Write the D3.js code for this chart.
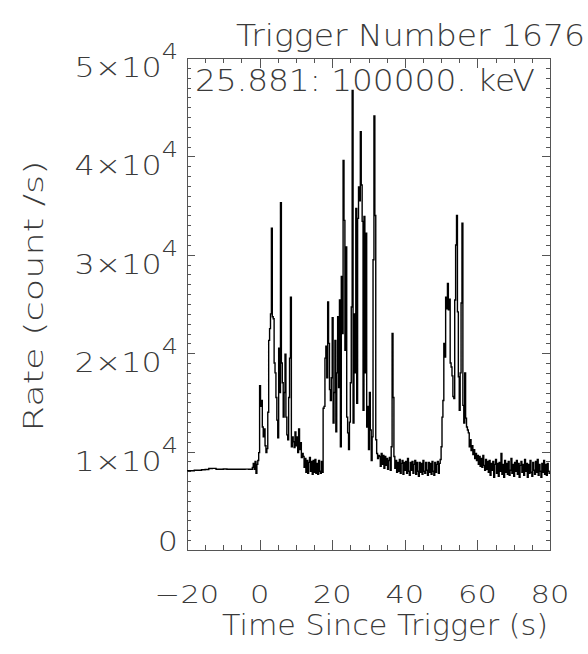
<!DOCTYPE html>
<html>
<head>
<meta charset="utf-8" />
<title>Trigger Number 1676</title>
<script src="https://d3js.org/d3.v7.min.js"></script>
<style>
  body { margin: 0; background: #fff; }
  svg { display: block; font-family: "DejaVu Sans", sans-serif; }
  .lbl { fill: #3a3a3a; font-weight: 200; }
  .frame { fill: none; stroke: #555; stroke-width: 1; shape-rendering: crispEdges; }
  .ax .tick line { stroke: #555; shape-rendering: crispEdges; }
  .ax .domain { display: none; }
</style>
</head>
<body>
<svg width="588" height="654"></svg>
<script>
// axis ticks
const xTicks = [-20, 0, 20, 40, 60, 80];
const xTickLabels = ["\u221220", "0", "20", "40", "60", "80"];
const yTicks = [0, 10000, 20000, 30000, 40000, 50000];
const yTickMantissa = ["0", "1", "2", "3", "4", "5"];

// light curve, rates in count/s, binned from each segment start
const preRates = [8050, 8050, 8100, 8100, 8150, 8180, 8280, 8300, 8200, 8200,
  8230, 8200, 8200, 8200, 8210, 8200, 8220, 8200];
const riseRates = [8400, 8800, 8200, 9000, 7800, 8700, 9100, 9900];
const pulse1Rates = [
  16700, 14600, 15200, 12500, 11500, 12300, 10600, 9900,
  10300, 14000, 21300, 22500, 24000, 32700, 23700, 23500,
  19000, 18000, 15500, 13200, 11400, 20500, 16000, 35300,
  19000, 17000, 13500, 16000, 19900, 13500, 11700, 11200,
  15500, 19500, 25700, 10500, 11500, 11000, 10400, 12000,
  10600, 11500, 9900, 12300, 10200, 10900, 9400, 9800];
const gap1Rates = [
  9500, 8400, 9300, 7900, 9100, 7800, 8900, 9400,
  8000, 9000, 7700, 9100, 7900, 9200, 7800, 8800,
  7700, 9100, 8000, 7800, 9000, 7900];
const pulse2Rates = [
  14400, 14600, 19500, 20700, 17500, 25200, 21000, 16300,
  15200, 17500, 23600, 12900, 16000, 21300, 12000, 18000,
  23700, 16500, 25400, 10500, 27800, 22000, 39600, 33500,
  20300, 30800, 13500, 11900, 10200, 13000, 17000, 24700,
  46700, 12900, 24000, 18000, 34700, 14900, 33700, 36900,
  35500, 42500, 37100, 33400, 14200, 33900, 18000, 32200,
  12500, 14600, 10200, 16000, 12200, 9100, 11500, 29500,
  44100, 34000, 11200, 9800, 9300, 9600];
const gap2Rates = [
  9500, 8500, 9800, 8700, 9600, 8300, 9500, 8600,
  9300, 8200, 9100, 9400, 8100, 10500, 22000, 15500,
  9500, 8300, 9100, 7900, 8900, 8000, 9200, 7800,
  8800, 9100, 7700, 8900, 8100, 9000, 7800, 9300,
  8000, 7600, 8900, 8100, 9000, 7800, 8700, 9100,
  7700, 8900, 8000, 7500, 8900, 7900, 8800, 7700,
  9100, 8000, 7800, 8900, 8100, 7600, 8900, 7900,
  8800, 7700, 9000, 8000, 7600, 8900, 7900, 8700,
  9000, 7800, 8800, 9200];
const pulse3Rates = [
  10500, 13500, 15200, 21000, 19600, 25700, 24500, 27100,
  24400, 25500, 19000, 18600, 17700, 15600, 15400, 25400,
  31000, 34000, 24200, 17600, 14200, 18000, 25100, 33200,
  14700, 12900, 18000, 13400, 12500, 12200, 11900, 10500,
  11200, 10100, 10600, 9700, 10200, 9300, 9800, 9100,
  9600, 8700, 9500, 8500, 9300, 8400, 9600, 8600,
  8100, 9200, 8200, 9000];
const tailRates = [
  7900, 9100, 7600, 8800, 8100, 9000, 7400, 8700,
  9200, 7800, 8800, 7500, 8900, 8000, 9800, 7700,
  8700, 7400, 9100, 7900, 8800, 7700, 9000, 7600,
  8100, 9300, 7800, 8700, 7500, 8900, 8000, 9100,
  7700, 8800, 7400, 8600, 9000, 7900, 8700, 7600,
  9200, 8000, 8800, 7400, 8700, 7800, 9100, 7900,
  7500, 8900, 8100, 7700, 9000, 7900, 9200, 7600,
  8700, 8000, 7400, 8800, 7900, 9100, 7700, 8700,
  7600, 8800, 8000, 7800];

const segments = [
  { start: -20, step: 1, rates: preRates },
  { start: -2, step: 0.25, rates: riseRates },
  { start: 0, step: 0.25, rates: pulse1Rates },
  { start: 12, step: 0.25, rates: gap1Rates },
  { start: 17.5, step: 0.25, rates: pulse2Rates },
  { start: 33, step: 0.25, rates: gap2Rates },
  { start: 50, step: 0.25, rates: pulse3Rates },
  { start: 63, step: 0.25, rates: tailRates }
];
const points = segments.flatMap(s => s.rates.map((r, i) => [s.start + i * s.step, r]));
points.push([80, tailRates[tailRates.length - 1]]);

const svg = d3.select("svg");
const margin = { top: 58, right: 38, bottom: 104, left: 187 };
const W = 588 - margin.left - margin.right;
const H = 654 - margin.top - margin.bottom;
const g = svg.append("g").attr("transform", `translate(${margin.left},${margin.top})`);

const x = d3.scaleLinear().domain([-20, 80]).range([0, W]);
const y = d3.scaleLinear().domain([0, 50000]).range([H, 0]);

// minor + major ticks on all four sides, pointing inward
const xMinor = d3.range(-20, 80.1, 5).filter(v => !xTicks.includes(v));
const yMinor = d3.range(0, 50001, 1000).filter(v => !yTicks.includes(v));

function ticks(axisFn, scale, vals, size, tr) {
  g.append("g").attr("class", "ax").attr("transform", tr)
    .call(axisFn(scale).tickValues(vals).tickSize(-size).tickFormat(""));
}
ticks(d3.axisBottom, x, xTicks, 10, `translate(0,${H})`);
ticks(d3.axisBottom, x, xMinor, 5, `translate(0,${H})`);
ticks(d3.axisTop, x, xTicks, 10, "translate(0,0)");
ticks(d3.axisTop, x, xMinor, 5, "translate(0,0)");
ticks(d3.axisLeft, y, yTicks, 8, "translate(0,0)");
ticks(d3.axisLeft, y, yMinor, 4, "translate(0,0)");
ticks(d3.axisRight, y, yTicks, 8, `translate(${W},0)`);
ticks(d3.axisRight, y, yMinor, 4, `translate(${W},0)`);

g.append("rect").attr("class", "frame").attr("width", W).attr("height", H);

// light curve
const line = d3.line().x(d => x(d[0])).y(d => y(d[1])).curve(d3.curveStepAfter);
g.append("path").datum(points)
  .attr("fill", "none").attr("stroke", "#000").attr("stroke-width", 1.4)
  .attr("d", line);

// x tick labels (wide glyphs, like the plotting font)
g.selectAll(".xl").data(xTicks).join("text")
  .attr("class", "lbl")
  .attr("transform", d => `translate(${x(d)},${H + 53}) scale(1.22,1)`)
  .attr("text-anchor", "middle").attr("font-size", 25)
  .text((d, i) => xTickLabels[i]);

// y tick labels with power-of-ten superscript
yTicks.forEach((v, i) => {
  const base = v === 0 ? 1 : 19;
  const t = g.append("text").attr("class", "lbl")
    .attr("transform", `translate(-9,${y(v) + base}) scale(1.22,1)`)
    .attr("text-anchor", "end").attr("font-size", 26);
  if (v === 0) {
    t.text(yTickMantissa[i]);
  } else {
    t.append("tspan").text(yTickMantissa[i] + "\u00d710");
    t.append("tspan").attr("font-size", 21).attr("dy", -18).text("4");
  }
});

// titles
svg.append("text").attr("class", "lbl")
  .attr("x", 236).attr("y", 46).attr("font-size", 31)
  .attr("textLength", 349).attr("lengthAdjust", "spacingAndGlyphs")
  .text("Trigger Number 1676");

g.append("text").attr("class", "lbl")
  .attr("x", 8).attr("y", 33).attr("font-size", 30)
  .attr("textLength", 340).attr("lengthAdjust", "spacingAndGlyphs")
  .text("25.881: 100000. keV");

svg.append("text").attr("class", "lbl")
  .attr("x", 385).attr("y", 635).attr("font-size", 29)
  .attr("text-anchor", "middle")
  .attr("textLength", 326).attr("lengthAdjust", "spacingAndGlyphs")
  .text("Time Since Trigger (s)");

svg.append("text").attr("class", "lbl")
  .attr("transform", "translate(43,296) rotate(-90)")
  .attr("text-anchor", "middle").attr("font-size", 27)
  .attr("textLength", 271).attr("lengthAdjust", "spacingAndGlyphs")
  .text("Rate (count /s)");
</script>
</body>
</html>
